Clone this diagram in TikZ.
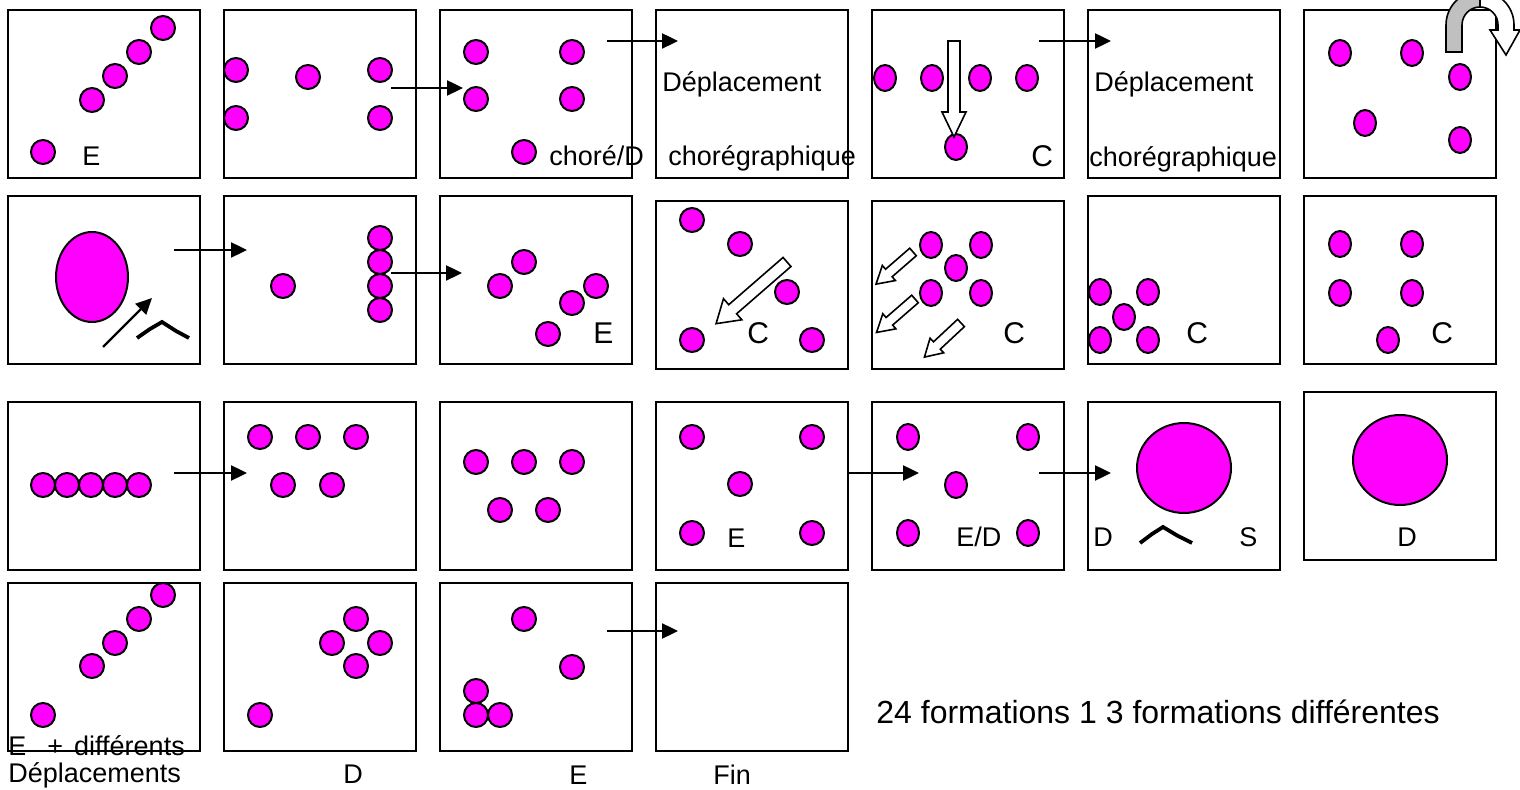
\documentclass[tikz,border=0pt]{standalone}
\usepackage{fontspec}
\setmainfont{Liberation Sans}
\usetikzlibrary{arrows.meta}
\definecolor{dancepink}{RGB}{255,0,255}
\definecolor{silver}{RGB}{192,192,192}

\tikzset{
  frame/.style={draw, line width=1pt, minimum width=96pt, minimum height=84pt, inner sep=0pt},
  dancer/.style={draw, fill=dancepink, line width=1pt},
  flow/.style={line width=1.2pt, -{Triangle[length=8pt,width=7.5pt]}},
  block/.style={draw, fill=white, line width=0.8pt, line join=miter},
  hill/.style={line width=1.9pt, line join=miter},
  lbl/.style={font=\fontsize{13.5}{16}\selectfont, inner sep=0pt},
  biglbl/.style={font=\fontsize{15}{18}\selectfont, inner sep=0pt},
}

\newcommand{\blockarrow}[7]{%
  \filldraw[block, shift={(#1,#2)}, rotate=#3]
    (0,-#5) -- (#4-#7,-#5) -- (#4-#7,-#6) -- (#4,0) -- (#4-#7,#6) -- (#4-#7,#5) -- (0,#5) -- cycle;}

\begin{document}
\begin{tikzpicture}[x=0.5pt, y=-0.5pt]
      \useasboundingbox (0,0) rectangle (1520,790);
      \fill[white] (0,0) rectangle (1520,790);

      \foreach \c/\x in {1/104,2/320,3/536,4/752,5/968,6/1184,7/1400}
        \node[frame] (f_1_\c) at (\x,94) {};
      \foreach \c/\x/\y in {1/104/280,2/320/280,3/536/280,4/752/285,5/968/285,6/1184/280,7/1400/280}
        \node[frame] (f_2_\c) at (\x,\y) {};
      \foreach \c/\x/\y in {1/104/486,2/320/486,3/536/486,4/752/486,5/968/486,6/1184/486,7/1400/476}
        \node[frame] (f_3_\c) at (\x,\y) {};
      \foreach \c/\x in {1/104,2/320,3/536,4/752}
        \node[frame] (f_4_\c) at (\x,667) {};

      \foreach \x/\y in {163/28,139/52,115/76,92/100,43/152,
                         236/70,236/118,308/77,380/70,380/118,
                         476/52,476/99,572/52,572/99,524/152,
                         283/286,380/238,380/262,380/286,380/310,
                         524/262,500/286,596/286,572/303,548/334,
                         692/220,740/244,787/292,692/340,812/340,
                         43/485,67/485,91/485,115/485,139/485,
                         260/437,308/437,356/437,283/485,332/485,
                         476/462,524/462,572/462,500/510,548/510,
                         692/437,812/437,740/484,692/533,812/533,
                         163/595,139/619,115/643,92/666,43/715,
                         356/619,332/643,380/643,356/666,260/715,
                         524/619,572/667,476/691,476/715,500/715}
        \filldraw[dancer] (\x,\y) circle (12);
      \foreach \x/\y in {885/78,932/78,980/78,1027/78,956/147,
                         1340/53,1412/53,1460/77,1365/123,1460/140,
                         931/245,981/245,956/268,931/293,981/293,
                         1100/292,1148/292,1124/317,1100/340,1148/340,
                         1340/244,1412/244,1340/293,1412/293,1388/340,
                         908/437,1028/437,956/485,908/533,1028/533}
        \filldraw[dancer] (\x,\y) ellipse [x radius=11, y radius=13];
      \filldraw[dancer] (92,277) ellipse [x radius=36, y radius=45];
      \filldraw[dancer] (1184,468) ellipse [x radius=47, y radius=45];
      \filldraw[dancer] (1400,460) ellipse [x radius=47, y radius=45];

      \foreach \n/\xa/\ya/\xb in {1/391/88/463, 2/607/41/678, 3/1039/41/1111,
                                  4/174/250/247, 5/391/273/462,
                                  6/174/473/247, 7/848/473/919, 8/1039/473/1111,
                                  9/607/631/678}
      {
        \coordinate (s_\n) at (\xa,\ya);
        \coordinate (t_\n) at (\xb,\ya);
        \draw[flow] (s_\n) -- (t_\n);
      }
      \coordinate (s_10) at (103,347);
      \coordinate (t_10) at (152,298);
      \draw[flow] (s_10) -- (t_10);

      \blockarrow{954}{41}{-90}{96}{6}{12}{25}
      \blockarrow{787}{262}{-139}{94}{6}{14}{22}
      \blockarrow{913}{252}{-139}{49}{5}{10}{17}
      \blockarrow{915}{299}{-139}{51}{5}{10}{17}
      \blockarrow{961}{323}{-137}{50}{5}{10}{17}

      \draw[hill] (137,338) -- (150,329) -- (162,322) -- (176,331) -- (189,338);
      \draw[hill] (1140,543) -- (1152,534) -- (1163,527) -- (1178,536) -- (1192,543);

      \filldraw[block] (1480,-9) arc[start angle=270, end angle=360, radius=34]
        -- (1514,30) -- (1520,30) -- (1506,55) -- (1490,30) -- (1498,30)
        -- (1498,25) arc[start angle=0, end angle=-90, radius=18] -- cycle;
      \filldraw[block, fill=silver] (1446,52) -- (1446,25) arc[start angle=180, end angle=270, radius=34]
        -- (1480,7) arc[start angle=270, end angle=180, radius=18] -- (1462,52) -- cycle;

      \node[lbl, anchor=base west] (l_1) at (82,166) {E};
      \node[lbl, anchor=base west] (l_2) at (549,166) {choré/D};
      \node[lbl, anchor=base west] (l_3) at (662,92) {Déplacement};
      \node[lbl, anchor=base west] (l_4) at (668,166) {chorégraphique};
      \node[biglbl, anchor=base west] (l_5) at (1031,167) {C};
      \node[lbl, anchor=base west] (l_6) at (1094,92) {Déplacement};
      \node[lbl, anchor=base west] (l_7) at (1089,167) {chorégraphique};
      \node[biglbl, anchor=base west] (l_8) at (593,344) {E};
      \node[biglbl, anchor=base west] (l_9) at (747,344) {C};
      \node[biglbl, anchor=base west] (l_10) at (1003,344) {C};
      \node[biglbl, anchor=base west] (l_11) at (1186,344) {C};
      \node[biglbl, anchor=base west] (l_12) at (1431,344) {C};
      \node[lbl, anchor=base west] (l_13) at (727,547) {E};
      \node[lbl, anchor=base west] (l_14) at (956,546) {E/D};
      \node[lbl, anchor=base west] (l_15) at (1093,546) {D};
      \node[lbl, anchor=base west] (l_16) at (1239,546) {S};
      \node[lbl, anchor=base west] (l_17) at (1397,546) {D};
      \node[lbl, anchor=base west] (l_18) at (8,755) {E\hspace*{10.5pt}+\hspace*{5.5pt}différents};
      \node[lbl, anchor=base west] (l_19) at (8,782) {Déplacements};
      \node[lbl, anchor=base west] (l_20) at (343,783) {D};
      \node[lbl, anchor=base west] (l_21) at (569,784) {E};
      \node[lbl, anchor=base west] (l_22) at (713,784) {Fin};
      \node[lbl, font=\fontsize{16}{19}\selectfont, anchor=base west] (l_23) at (876,723) {24 formations 1 3 formations différentes};
\end{tikzpicture}
\end{document}
